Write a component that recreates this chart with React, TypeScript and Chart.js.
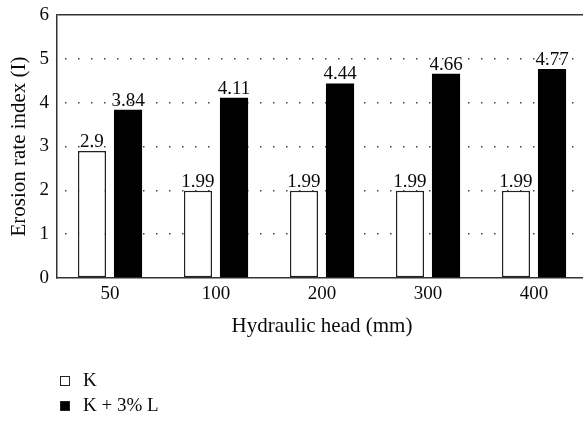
import React, { useEffect, useRef } from "react";
import { Chart, registerables } from "chart.js";

Chart.register(...registerables);

const categories = ["50", "100", "200", "300", "400"];
const seriesK = [2.9, 1.99, 1.99, 1.99, 1.99];
const seriesKL = [3.84, 4.11, 4.44, 4.66, 4.77];
const seriesNames = ["K", "K + 3% L"];
const yMin = 0;
const yMax = 6;
const yStep = 1;
const xTitle = "Hydraulic head (mm)";
const yTitle = "Erosion rate index (I)";

const FONT = "'Liberation Serif', 'Times New Roman', serif";
const TEXT = "#0a0a0a";

const valueLabels = {
  id: "valueLabels",
  afterDatasetsDraw(chart: any) {
    const ctx = chart.ctx;
    ctx.save();
    ctx.font = `19px ${FONT}`;
    ctx.fillStyle = TEXT;
    ctx.textAlign = "center";
    ctx.textBaseline = "alphabetic";
    chart.data.datasets.forEach((ds: any, i: number) => {
      const meta = chart.getDatasetMeta(i);
      meta.data.forEach((bar: any, j: number) => {
        ctx.fillText(String(ds.data[j]), bar.x, bar.y - 4);
      });
    });
    ctx.restore();
  },
};

const stackedLegend = {
  id: "stackedLegend",
  afterDraw(chart: any) {
    const ctx = chart.ctx;
    const area = chart.chartArea;
    ctx.save();
    ctx.font = `19px ${FONT}`;
    ctx.textBaseline = "middle";
    ctx.textAlign = "left";
    const x0 = area.left + 3;
    const y0 = area.bottom + 103;
    const box = 10;
    chart.data.datasets.forEach((ds: any, i: number) => {
      const cy = y0 + i * 25;
      ctx.fillStyle = ds.backgroundColor;
      ctx.fillRect(x0, cy - box / 2, box, box);
      ctx.lineWidth = 1;
      ctx.strokeStyle = "#222";
      ctx.strokeRect(x0 + 0.5, cy - box / 2 + 0.5, box - 1, box - 1);
      ctx.fillStyle = TEXT;
      ctx.fillText(ds.label, x0 + 23, cy);
    });
    ctx.restore();
  },
};

export default function App() {
  const ref = useRef<HTMLCanvasElement>(null);

  useEffect(() => {
    if (!ref.current) return;
    const chart = new Chart(ref.current, {
      type: "bar",
      data: {
        labels: categories,
        datasets: [
          {
            label: seriesNames[0],
            data: seriesK,
            backgroundColor: "#ffffff",
            borderColor: "#222",
            borderWidth: 1.5,
            borderSkipped: false,
            categoryPercentage: 0.68,
            barPercentage: 0.78,
          },
          {
            label: seriesNames[1],
            data: seriesKL,
            backgroundColor: "#000000",
            borderColor: "#000000",
            borderWidth: 0,
            categoryPercentage: 0.68,
            barPercentage: 0.78,
          },
        ],
      },
      options: {
        animation: false,
        responsive: false,
        layout: { padding: { left: 0, right: 13, top: 15, bottom: 80 } },
        plugins: {
          legend: { display: false },
          tooltip: { enabled: false },
        },
        scales: {
          x: {
            grid: { display: false, drawTicks: false },
            border: { display: true, color: "#333", width: 1.5 },
            ticks: { font: { family: FONT, size: 19 }, color: TEXT, padding: 5 },
            title: {
              display: true,
              text: xTitle,
              font: { family: FONT, size: 21 },
              color: TEXT,
              padding: { top: 0, bottom: 2 },
            },
            afterFit: (s: any) => {
              s.height = 63;
            },
          },
          y: {
            min: yMin,
            max: yMax,
            ticks: {
              stepSize: yStep,
              font: { family: FONT, size: 19 },
              color: TEXT,
              padding: 8,
            },
            grid: {
              drawTicks: false,
              color: (c: any) =>
                c.tick && c.tick.value === yMin
                  ? "rgba(0,0,0,0)"
                  : c.tick && c.tick.value === yMax
                  ? "#333"
                  : "#444",
              lineWidth: (c: any) => 1.5,
            },
            border: {
              display: true,
              color: "#333",
              width: 1.5,
              dash: (c: any) => (c.tick && c.tick.value === yMax ? [] : [1.5, 11.5]),
              dashOffset: 5.5,
            },
            title: {
              display: true,
              text: yTitle,
              font: { family: FONT, size: 21 },
              color: TEXT,
              padding: { top: 7, bottom: 0 },
            },
            afterFit: (s: any) => {
              s.width = 57;
              s.paddingTop = 0;
              s.paddingBottom = 0;
            },
          },
        },
      } as any,
      plugins: [valueLabels, stackedLegend],
    });
    return () => chart.destroy();
  }, []);

  return (
    <div
      style={{
        position: "absolute",
        left: 0,
        top: 0,
        width: 583,
        height: 421,
        overflow: "hidden",
        background: "#fff",
      }}
    >
      <canvas ref={ref} width={600} height={421} style={{ display: "block", width: 600, height: 421 }} />
    </div>
  );
}
